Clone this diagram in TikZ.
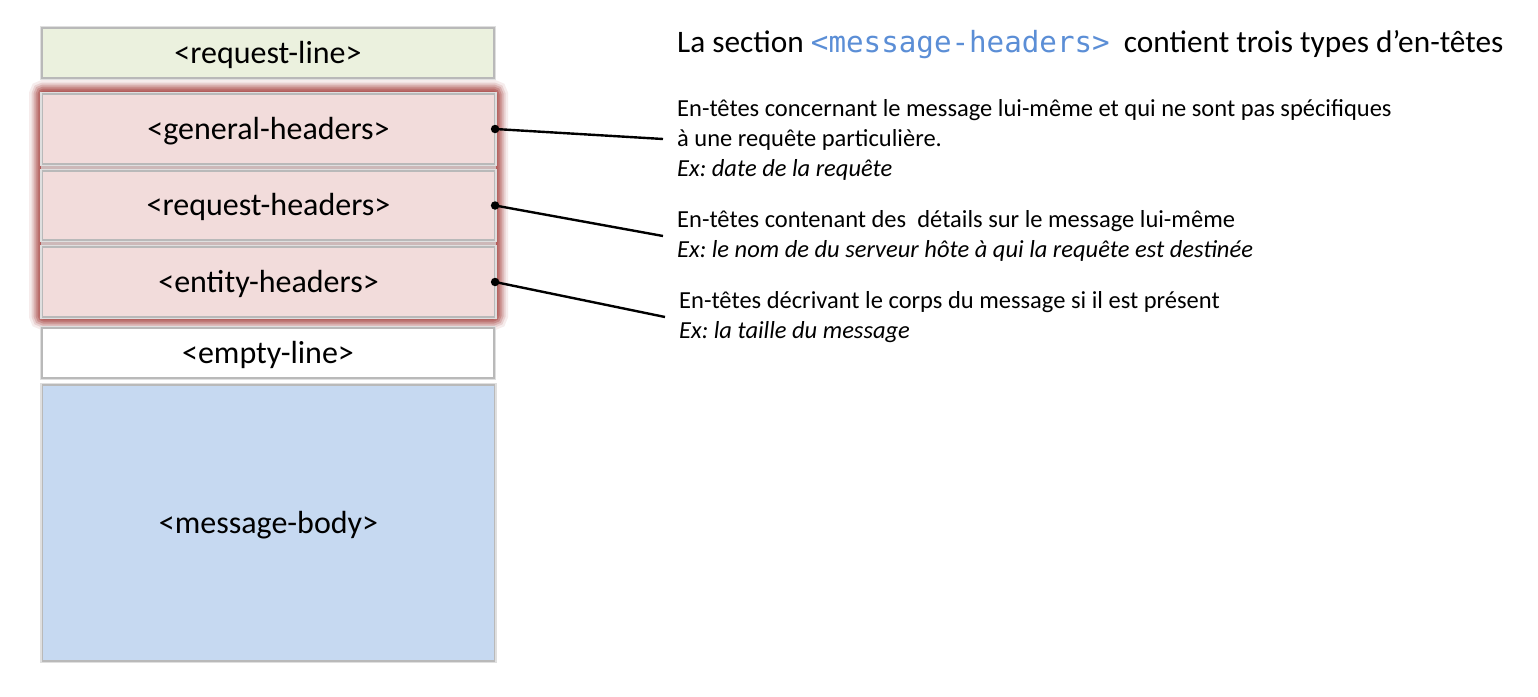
\documentclass[tikz,border=0pt]{standalone}
\usepackage{fontspec}
\setmainfont{Carlito}
\setmonofont{DejaVu Sans Mono}
\definecolor{greenfill}{HTML}{EBF1DE}
\definecolor{redfill}{HTML}{F2DCDB}
\definecolor{bluefill}{HTML}{C6D9F1}
\definecolor{glowred}{HTML}{A94845}
\definecolor{gapfill}{HTML}{CDB8B8}
\definecolor{titleblue}{HTML}{5B8ED6}
\frenchspacing
\begin{document}
\begin{tikzpicture}[x=1pt,y=-1pt,
  boxtxt/.style={font=\fontsize{32}{38}\selectfont, text height=22pt, text depth=2pt},
  layer/.style={fill=#1, minimum width=452pt, inner sep=0pt, boxtxt,
    draw=gray!55, line width=1.2pt,
    preaction={draw=gray!25, line width=4.5pt}},
  desc/.style={font=\fontsize{24.5}{30}\selectfont, anchor=base west, inner sep=0pt},
  conn/.style={line width=2.4pt, black},
  dot/.style={circle, fill=black, inner sep=0pt, minimum size=8.5pt}]
\useasboundingbox (0,0) rectangle (1538,696);
\fill[white] (0,0) rectangle (1538,696);

% red glow round the header group
\foreach \w/\o in {24/0.1,19/0.16,15/0.24,11/0.32,7/0.42,3/0.45}
  \draw[glowred, line width=\w pt, opacity=\o, rounded corners=3pt] (41,92) rectangle (496,318);
\fill[gapfill] (41,92) rectangle (496,318);

\node[layer=greenfill, minimum height=50pt] (rl) at (268,53) {<request-line>};
\node[layer=redfill, minimum height=70pt] (gh) at (268.5,129) {<general-headers>};
\node[layer=redfill, minimum height=69pt] (rh) at (268.5,205.5) {<request-headers>};
\node[layer=redfill, minimum height=70pt] (eh) at (268.5,282) {<entity-headers>};
\node[layer=white, minimum height=50pt] (el) at (268,353) {<empty-line>};
\node[layer=bluefill, minimum height=276pt] (mb) at (268.5,523) {<message-body>};

% title
\node[anchor=base west, inner sep=0pt, font=\fontsize{31.3}{37}\selectfont] (title) at (677,52)
  {La section {\color{titleblue}\fontsize{29.2}{35}\ttfamily <message-headers>}\ \ contient trois types d’en-têtes};

% descriptions
\node[desc] (d1a) at (677,116) {En-têtes concernant le message lui-même et qui ne sont pas spécifiques};
\node[desc] (d1b) at (677,146) {à une requête particulière.};
\node[desc] (d1c) at (677,176) {\itshape Ex: date de la requête};
\node[desc] (d2a) at (677,227) {En-têtes contenant des \ détails sur le message lui-même};
\node[desc] (d2b) at (677,257) {\itshape Ex: le nom de du serveur hôte à qui la requête est destinée};
\node[desc] (d3a) at (679,308) {En-têtes décrivant le corps du message si il est présent};
\node[desc] (d3b) at (679,338) {\itshape Ex: la taille du message};

% connectors
\coordinate (e1) at (663,139);
\coordinate (e2) at (663,236);
\coordinate (e3) at (665,317);
\node[dot] (g1) at (gh.east) {};
\node[dot] (g2) at (rh.east) {};
\node[dot] (g3) at (eh.east) {};
\draw[conn] (g1.center) -- (e1);
\draw[conn] (g2.center) -- (e2);
\draw[conn] (g3.center) -- (e3);
\end{tikzpicture}
\end{document}
